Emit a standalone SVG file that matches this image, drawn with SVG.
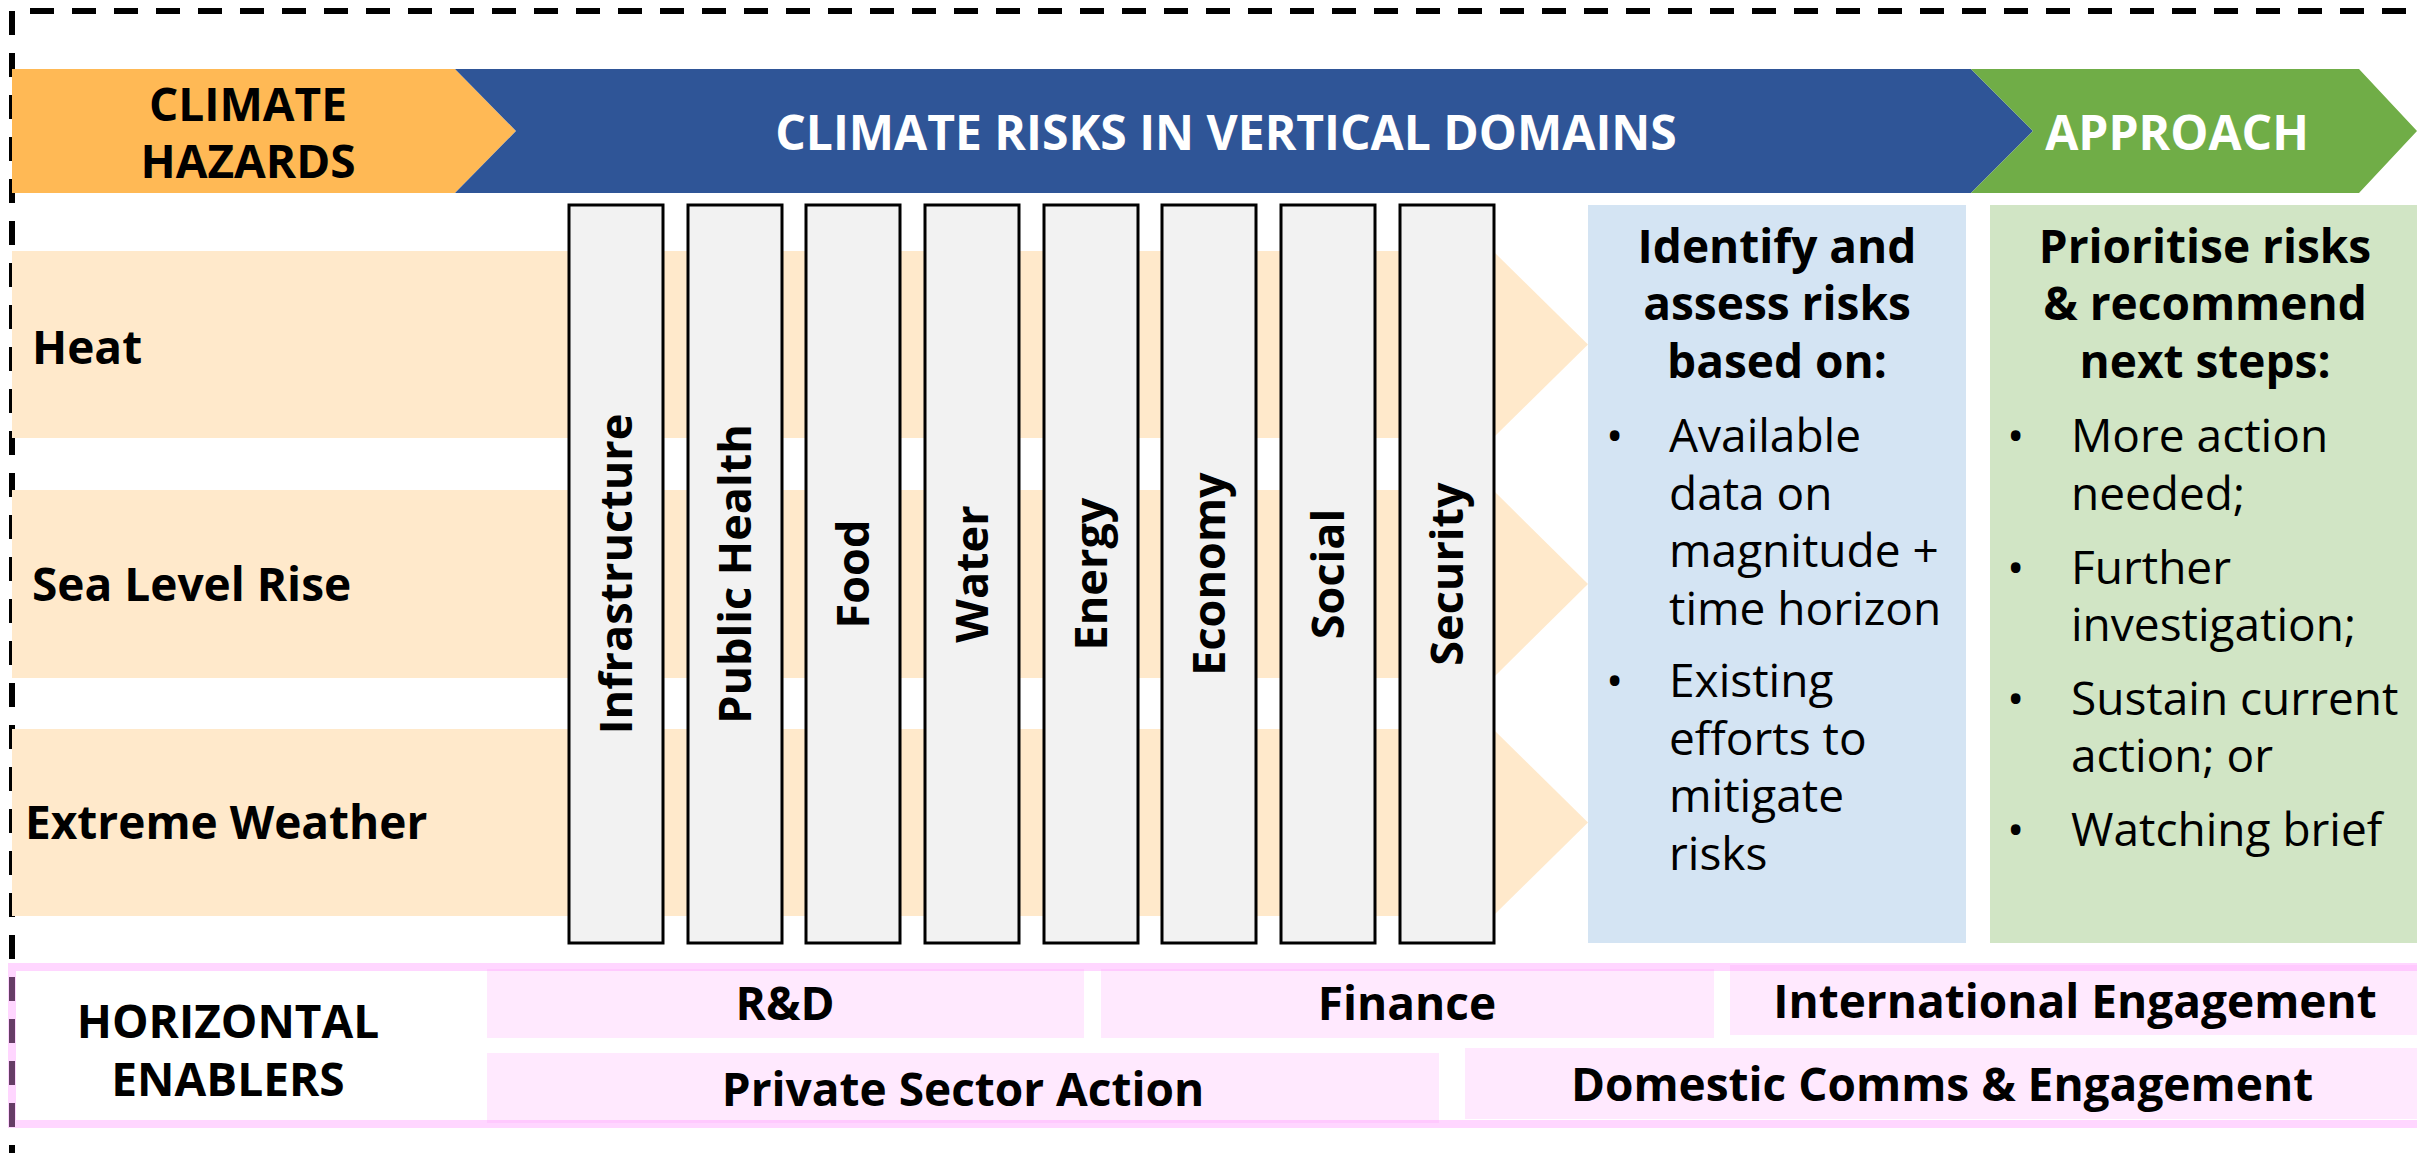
<svg xmlns="http://www.w3.org/2000/svg" width="2417" height="1153" viewBox="0 0 2417 1153">
<style>
text{font-family:"Open Sans","Noto Sans","Liberation Sans",sans-serif;fill:#000}
.hd{font-size:48px;font-weight:700}
.w{fill:#fff}
.lbl{font-size:46px;font-weight:700}
.col{fill:#F2F2F2;stroke:#000;stroke-width:3}
.ct{font-size:45px;font-weight:700;text-anchor:middle}
.band{fill:#FFE9CB}
.body{font-size:46px}
.mid{text-anchor:middle}
.en{fill:#FFE9FE}
.dash{stroke:#000;stroke-width:6;stroke-dasharray:24 18;fill:none}
</style>
<rect width="2417" height="1153" fill="#fff"/>
<line class="dash" x1="12" y1="11" x2="12" y2="1153"/>
<line class="dash" x1="30" y1="11" x2="2417" y2="11"/>

<g id="header">
<polygon points="12,69 455,69 516,131 455,193 12,193" fill="#FFB955"/>
<polygon points="455,69 1971,69 2033,131 1971,193 455,193 516,131" fill="#2F5597"/>
<polygon points="1971,69 2359,69 2417,131 2359,193 1971,193 2033,131" fill="#70AD47"/>
<text class="lbl mid" x="248" y="121">CLIMATE<tspan x="248" y="178">HAZARDS</tspan></text>
<text class="hd mid w" x="1226" y="150">CLIMATE RISKS IN VERTICAL DOMAINS</text>
<text class="hd mid w" x="2177" y="150">APPROACH</text>
</g>

<g id="hazards">
<polygon class="band" points="12,251 1493,251 1588,344.5 1493,438 12,438"/>
<polygon class="band" points="12,490 1493,490 1588,584 1493,678 12,678"/>
<polygon class="band" points="12,729 1493,729 1588,822.5 1493,916 12,916"/>
<text class="lbl" x="32" y="364">Heat</text>
<text class="lbl" x="32" y="601">Sea Level Rise</text>
<text class="lbl" x="25" y="839">Extreme Weather</text>
</g>

<g id="domains">
<rect class="col" x="569" y="205" width="94" height="738"/>
<rect class="col" x="688" y="205" width="94" height="738"/>
<rect class="col" x="806" y="205" width="94" height="738"/>
<rect class="col" x="925" y="205" width="94" height="738"/>
<rect class="col" x="1044" y="205" width="94" height="738"/>
<rect class="col" x="1162" y="205" width="94" height="738"/>
<rect class="col" x="1281" y="205" width="94" height="738"/>
<rect class="col" x="1400" y="205" width="94" height="738"/>
<text class="ct" transform="translate(616,574) rotate(-90)" y="16">Infrastructure</text>
<text class="ct" transform="translate(735,574) rotate(-90)" y="16">Public Health</text>
<text class="ct" transform="translate(853,574) rotate(-90)" y="16">Food</text>
<text class="ct" transform="translate(972,574) rotate(-90)" y="16">Water</text>
<text class="ct" transform="translate(1091,574) rotate(-90)" y="16">Energy</text>
<text class="ct" transform="translate(1209,574) rotate(-90)" y="16">Economy</text>
<text class="ct" transform="translate(1328,574) rotate(-90)" y="16">Social</text>
<text class="ct" transform="translate(1447,574) rotate(-90)" y="16">Security</text>
</g>

<g id="identify">
<rect x="1588" y="205" width="378" height="738" fill="#D4E4F3"/>
<text class="lbl mid" x="1777" y="263">Identify and<tspan x="1777" y="320">assess risks</tspan><tspan x="1777" y="378">based on:</tspan></text>
<text class="body" x="1606" y="452">•</text>
<text class="body" x="1669" y="452">Available<tspan x="1669" y="510">data on</tspan><tspan x="1669" y="567">magnitude +</tspan><tspan x="1669" y="625">time horizon</tspan></text>
<text class="body" x="1606" y="697">•</text>
<text class="body" x="1669" y="697">Existing<tspan x="1669" y="755">efforts to</tspan><tspan x="1669" y="812">mitigate</tspan><tspan x="1669" y="870">risks</tspan></text>
</g>

<g id="prioritise">
<rect x="1990" y="205" width="427" height="738" fill="#D1E5C5"/>
<text class="lbl mid" x="2205" y="263">Prioritise risks<tspan x="2205" y="320">&amp; recommend</tspan><tspan x="2205" y="378">next steps:</tspan></text>
<text class="body" x="2007" y="452">•</text>
<text class="body" x="2071" y="452">More action<tspan x="2071" y="510">needed;</tspan></text>
<text class="body" x="2007" y="584">•</text>
<text class="body" x="2071" y="584">Further<tspan x="2071" y="641">investigation;</tspan></text>
<text class="body" x="2007" y="715">•</text>
<text class="body" x="2071" y="715">Sustain current<tspan x="2071" y="772">action; or</tspan></text>
<text class="body" x="2007" y="846">•</text>
<text class="body" x="2071" y="846">Watching brief</text>
</g>

<g id="enablers">
<rect class="en" x="487" y="969" width="597" height="69"/>
<rect class="en" x="1101" y="969" width="613" height="69"/>
<rect class="en" x="1730" y="965" width="700" height="70"/>
<rect class="en" x="487" y="1053" width="952" height="70"/>
<rect class="en" x="1465" y="1048" width="960" height="71"/>
<rect x="12" y="967" width="2430" height="157" fill="none" stroke="#FF99FF" stroke-opacity="0.4" stroke-width="8"/>
<text class="lbl mid" x="228" y="1038">HORIZONTAL<tspan x="228" y="1096">ENABLERS</tspan></text>
<text class="lbl mid" x="785" y="1020">R&amp;D</text>
<text class="lbl mid" x="1407" y="1020">Finance</text>
<text class="lbl mid" x="2075" y="1018">International Engagement</text>
<text class="lbl mid" x="963" y="1106">Private Sector Action</text>
<text class="lbl mid" x="1942" y="1101">Domestic Comms &amp; Engagement</text>
</g>
</svg>
